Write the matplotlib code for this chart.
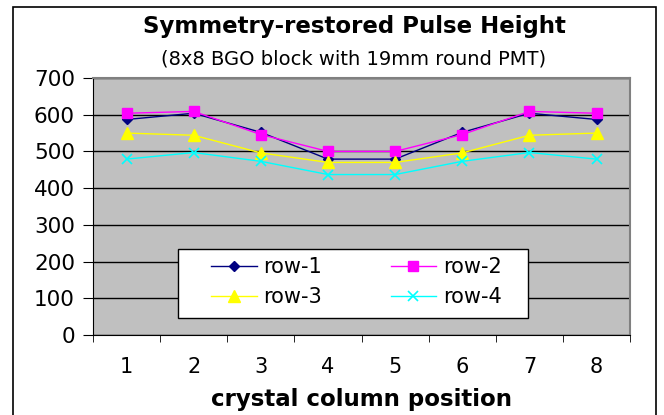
import matplotlib
matplotlib.use("Agg")
from matplotlib import pyplot as plt
from matplotlib.patches import Rectangle

plt.rcParams['font.family'] = ['DejaVu Sans']

# data
positions = [1, 2, 3, 4, 5, 6, 7, 8]
row1 = [587, 604, 552, 479, 479, 552, 604, 587]
row2 = [604, 609, 546, 500, 500, 546, 609, 604]
row3 = [550, 544, 496, 470, 470, 496, 544, 550]
row4 = [479, 497, 473, 437, 437, 473, 497, 479]
yticks = [0, 100, 200, 300, 400, 500, 600, 700]

fig = plt.figure(figsize=(6.64, 4.15), dpi=100)
ax = fig.add_axes([0.140, 0.193, 0.809, 0.619])
ax.set_facecolor("#C0C0C0")

l1, = ax.plot(positions, row1, color="#000080", lw=1, marker="D", ms=5, label="row-1")
l2, = ax.plot(positions, row2, color="#FF00FF", lw=1, marker="s", ms=7, label="row-2")
l3, = ax.plot(positions, row3, color="#FFFF00", lw=1, marker="^", ms=8, label="row-3")
l4, = ax.plot(positions, row4, color="#00FFFF", lw=1, marker="x", ms=7, mew=1.2, label="row-4")

ax.set_xlim(0.5, 8.5)
ax.set_ylim(0, 700)
ax.set_yticks(yticks)
ax.set_xticks(positions)
ax.set_xticks([p + 0.5 for p in [0] + positions], minor=True)
ax.tick_params(axis="x", which="major", length=0, labelsize=15, pad=16)
ax.tick_params(axis="x", which="minor", length=5, direction="out", color="black")
ax.tick_params(axis="y", length=7, direction="out", labelsize=15.5, pad=6)
ax.yaxis.grid(True, color="black", lw=1)
ax.set_axisbelow(True)

for s in ["top", "right"]:
    ax.spines[s].set_color("#808080")
    ax.spines[s].set_linewidth(1.5)
for s in ["left", "bottom"]:
    ax.spines[s].set_color("black")

ax.set_xlabel("crystal column position", fontsize=16.5, fontweight="bold", labelpad=8)

# legend box drawn separately so it can be placed exactly
ax.add_patch(Rectangle((0.158, 0.066), 0.652, 0.268, transform=ax.transAxes,
                       facecolor="white", edgecolor="black", lw=1, zorder=4))
leg = ax.legend([l1, l3, l2, l4], ["row-1", "row-3", "row-2", "row-4"], ncol=2,
                loc="center", bbox_to_anchor=(0.49, 0.205), fontsize=15,
                frameon=False, handlelength=2.2, handletextpad=0.3,
                columnspacing=3.3, labelspacing=0.5)
leg.set_zorder(5)

fig.text(354 / 664, 1 - 27 / 415, "Symmetry-restored Pulse Height",
         ha="center", va="center", fontsize=16.5, fontweight="bold")
fig.text(354 / 664, 1 - 59 / 415, "(8x8 BGO block with 19mm round PMT)",
         ha="center", va="center", fontsize=14)

# outer chart border
fig.patches.append(Rectangle((13 / 664, -0.05), (656 - 13) / 664, 1.05 - 7 / 415,
                             transform=fig.transFigure, fill=False,
                             edgecolor="black", lw=1.2))

fig.savefig("out.png", dpi=100)
